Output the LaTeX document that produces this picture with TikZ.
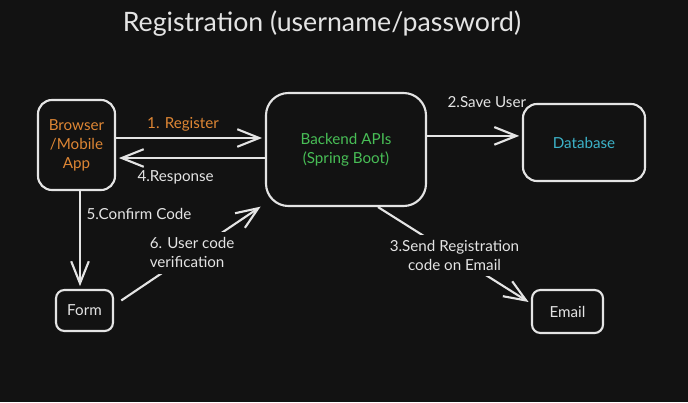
\documentclass[tikz,border=0pt]{standalone}
\usepackage{fontspec}
\setmainfont{Lato}
\usetikzlibrary{arrows.meta}

\definecolor{bg}{HTML}{121212}
\definecolor{fg}{HTML}{E4E4E4}
\definecolor{orangetxt}{RGB}{222,134,52}
\definecolor{greentxt}{RGB}{72,190,86}
\definecolor{tealtxt}{RGB}{60,178,200}

\begin{document}
\begin{tikzpicture}[x=0.025cm, y=-0.025cm,
  box/.style={draw=fg, line width=1.5pt, rounded corners=10pt, align=center,
    font=\fontsize{10.8}{13.5}\selectfont},
  arr/.style={draw=fg, line width=1.5pt, shorten >=2pt,
    -{Straight Barb[length=5.5mm,width=4.4mm]}},
  lbl/.style={text=fg, font=\fontsize{10.8}{13.5}\selectfont, inner sep=2pt}]
  \fill[bg] (0,0) rectangle (688,402);

  \node[text=fg, font=\fontsize{19}{22}\selectfont] (title) at (322,24) {Registration (username/password)};

  % Draw boxes
  \node[box, minimum width=1.925cm, minimum height=2.25cm, text=orangetxt] (browser) at (76.5,145) {Browser\\/Mobile\\App};
  \node[box, rounded corners=16pt, minimum width=4cm, minimum height=2.825cm, text=greentxt] (backend) at (346,149.5) {Backend APIs\\(Spring Boot)};
  \node[box, minimum width=3.05cm, minimum height=1.925cm, text=tealtxt] (database) at (584,142.5) {Database};
  \node[box, rounded corners=6pt, minimum width=1.425cm, minimum height=1.025cm, text=fg] (form) at (84.5,310.5) {Form};
  \node[box, rounded corners=6pt, minimum width=1.775cm, minimum height=1.075cm, text=fg] (email) at (567.5,311.5) {Email};

  % Draw arrows
  \draw[arr] ([yshift=0.175cm]browser.east) -- node[lbl, text=orangetxt, pos=0.45, above=2pt] {1. Register} ([yshift=0.175cm]browser.east -| backend.west);
  \draw[arr] ([yshift=-0.325cm]browser.east -| backend.west) -- node[lbl, pos=0.6, below=6pt] {4.Response} ([yshift=-0.325cm]browser.east);
  \draw[arr] ([yshift=0.34cm]backend.east) -- node[lbl, pos=0.63, above=0.6cm] {2.Save User} ([yshift=0.34cm]backend.east -| database.west);
  \draw[arr] ([xshift=0.0875cm]browser.south) -- node[lbl, pos=0.23, right=2pt] {5.Confirm Code} ([xshift=0.0875cm]browser.south |- form.north);
  \draw[arr] ([shift={(0.18cm,0.25cm)}]form.east) -- node[lbl, fill=bg, inner sep=4pt, align=left] {6. User code\\verification} ([shift={(-0.05cm,0.05cm)}]backend.south west);
  \draw[arr] ([xshift=0.8cm]backend.south) -- node[lbl, fill=bg, inner sep=4pt, align=center] {3.Send Registration\\code on Email} ([yshift=0.2cm]email.west);
\end{tikzpicture}
\end{document}
